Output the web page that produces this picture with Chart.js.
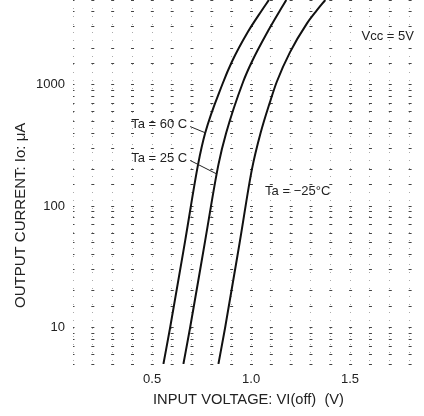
<!DOCTYPE html>
<html>
<head>
<meta charset="utf-8">
<script src="https://cdn.jsdelivr.net/npm/chart.js@4/dist/chart.umd.min.js"></script>
<style>
html,body{margin:0;padding:0;background:#fff;}
#wrap{width:424px;height:416px;}
</style>
</head>
<body>
<div id="wrap"><canvas id="c" width="424" height="416"></canvas></div>
<script>
// Input voltage (V) and output current (µA)
const v60 = [0.557, 0.591, 0.667, 0.732, 0.768, 0.856, 0.903, 0.982, 1.054, 1.090];
const i60 = [5, 10, 52, 220, 400, 1020, 1550, 2700, 4100, 5000];
const v25 = [0.658, 0.692, 0.768, 0.835, 0.874, 0.960, 1.004, 1.087, 1.146, 1.178];
const i25 = [5, 10, 52, 220, 400, 1060, 1550, 2800, 4100, 5000];
const vm25 = [0.835, 0.869, 0.944, 1.004, 1.048, 1.096, 1.130, 1.197, 1.281, 1.332, 1.375];
const im25 = [5, 10, 52, 200, 400, 725, 1060, 1860, 3180, 4100, 5000];

const xLabels = ['0.5', '1.0', '1.5'];
const yLabels = [10, 100, 1000];

const notes = [
  {text: 'Ta = 60 C', x: 0.677, y: 470, align: 'right', lx1: 0.692, ly1: 453, lx2: 0.772, ly2: 400},
  {text: 'Ta = 25 C', x: 0.677, y: 247, align: 'right', lx1: 0.692, ly1: 238, lx2: 0.824, ly2: 185},
  {text: 'Ta = \u221225\u00B0C', x: 1.071, y: 133, align: 'left'},
  {text: 'Vcc = 5V', x: 1.823, y: 2520, align: 'right'}
];

function pts(xs, ys){ return xs.map((x, k) => ({x: x, y: ys[k]})); }

const notePlugin = {
  id: 'notes',
  afterDatasetsDraw(chart){
    const ctx = chart.ctx, xs = chart.scales.x, ys = chart.scales.y;
    ctx.save();
    ctx.font = '13px "Liberation Sans", Arial, sans-serif';
    ctx.fillStyle = '#222';
    ctx.strokeStyle = '#222';
    ctx.lineWidth = 1;
    ctx.textBaseline = 'middle';
    notes.forEach(n => {
      ctx.textAlign = n.align;
      ctx.fillText(n.text, xs.getPixelForValue(n.x), ys.getPixelForValue(n.y));
      if (n.lx1 !== undefined) {
        ctx.beginPath();
        ctx.moveTo(xs.getPixelForValue(n.lx1), ys.getPixelForValue(n.ly1));
        ctx.lineTo(xs.getPixelForValue(n.lx2), ys.getPixelForValue(n.ly2));
        ctx.stroke();
      }
    });
    ctx.restore();
  }
};

const lineStyle = {borderColor: '#111', borderWidth: 2, pointRadius: 0, showLine: true, fill: false, cubicInterpolationMode: 'monotone'};

new Chart(document.getElementById('c'), {
  type: 'scatter',
  data: {
    datasets: [
      Object.assign({label: 'Ta = 60 C', data: pts(v60, i60)}, lineStyle),
      Object.assign({label: 'Ta = 25 C', data: pts(v25, i25)}, lineStyle),
      Object.assign({label: 'Ta = -25 C', data: pts(vm25, im25)}, lineStyle)
    ]
  },
  options: {
    responsive: false,
    animation: false,
    devicePixelRatio: 1,
    layout: {padding: 0},
    plugins: {legend: {display: false}, tooltip: {enabled: false}},
    scales: {
      x: {
        type: 'linear',
        min: 0.1,
        max: 1.874,
        afterFit(s){ s.height = 52; s.paddingLeft = 0; s.paddingRight = 0; },
        grid: {color: '#aaa', lineWidth: 1, drawTicks: false},
        border: {display: false, dash: [1, 7]},
        ticks: {
          stepSize: 0.1, autoSkip: false, maxRotation: 0, includeBounds: false, padding: 8,
          color: '#222', font: {family: '"Liberation Sans", Arial, sans-serif', size: 13},
          callback(v){ const s = (Math.round(v * 10) / 10).toFixed(1); return xLabels.includes(s) ? s : ''; }
        },
        title: {display: true, text: 'INPUT VOLTAGE: VI(off)  (V)', color: '#222', padding: {top: 4, bottom: 7},
          font: {family: '"Liberation Sans", Arial, sans-serif', size: 14.7}}
      },
      y: {
        type: 'logarithmic',
        min: 5,
        max: 5000,
        afterFit(s){ s.width = 73; s.paddingTop = 0; s.paddingBottom = 0; },
        grid: {color: '#444', lineWidth: 1, drawTicks: false},
        border: {display: false, dash: [3, 16.83], dashOffset: 1.5},
        ticks: {
          autoSkip: false, padding: 8,
          color: '#222', font: {family: '"Liberation Sans", Arial, sans-serif', size: 13},
          callback(v){ return yLabels.includes(Math.round(v)) && Math.abs(v - Math.round(v)) < 1e-6 ? String(Math.round(v)) : ''; }
        },
        title: {display: true, text: 'OUTPUT CURRENT: Io: \u03BCA' + '                ', color: '#222', padding: 12,
          font: {family: '"Liberation Sans", Arial, sans-serif', size: 15}}
      }
    }
  },
  plugins: [notePlugin]
});
</script>
</body>
</html>
